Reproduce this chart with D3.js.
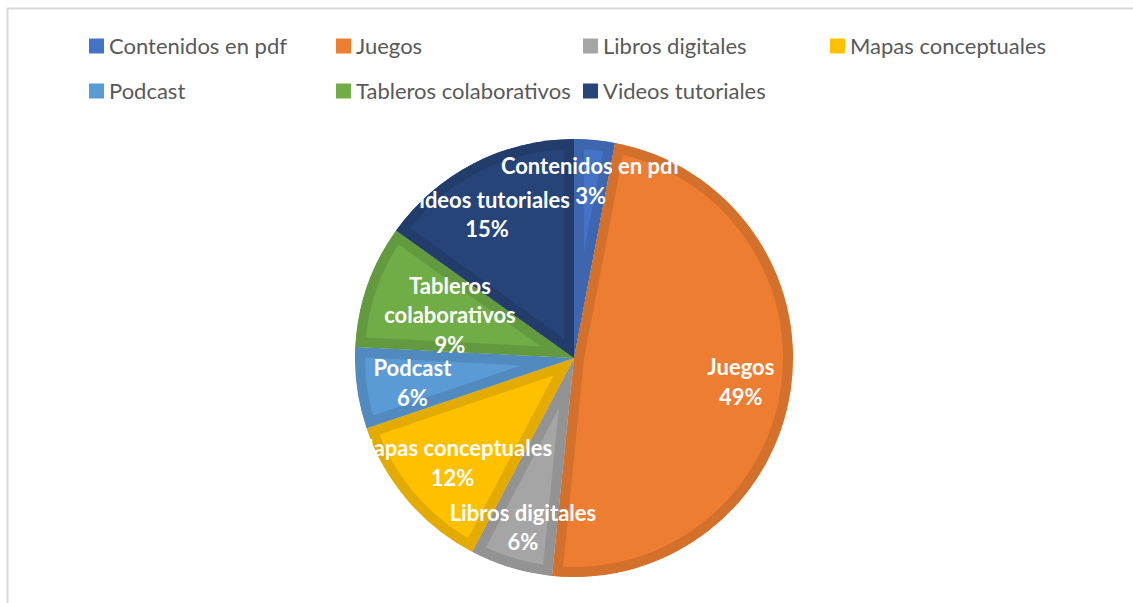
<!DOCTYPE html>
<html>
<head>
<meta charset="utf-8">
<script src="https://cdn.jsdelivr.net/npm/d3@7"></script>
<style>
html,body{margin:0;padding:0;background:#fff;}
svg{display:block;}
</style>
</head>
<body>
<svg id="chart" width="1133" height="603"></svg>
<script>
// ---- data ----
const categories = ["Contenidos en pdf","Juegos","Libros digitales","Mapas conceptuales","Podcast","Tableros colaborativos","Videos tutoriales"];
const shares = [3.0,48.6,6.1,12.1,6.0,9.1,15.1];
const colors = ["#4472C4","#ED7D31","#A5A5A5","#FFC000","#5B9BD5","#70AD47","#264478"];
const labelLines = [["Contenidos en pdf"],["Juegos"],["Libros digitales"],["Mapas conceptuales"],["Podcast"],["Tableros","colaborativos"],["Videos tutoriales"]];

// ---- layout ----
const cx = 574, cy = 358, R = 219;
const labelFont = "Lato, 'Open Sans', sans-serif";
const labelRadiusFactor = [0.81, 0.77, 0.81, 0.735, 0.745, 0.6, 0.76];
const labelNudge = [[0,0],[0,0],[0,0],[1,1],[0,3],[0,1],[-11,5]];

const svg = d3.select("#chart");

// chart frame
svg.append("rect").attr("x",7.5).attr("y",8.5).attr("width",1140).attr("height",620)
  .attr("fill","#fff").attr("stroke","#d9d9d9").attr("stroke-width",2);

// legend
const legendCols = [89,336,583,830];
const legendRows = [46,91];
const legend = svg.append("g");
categories.forEach((c,i)=>{
  const col = i % 4, row = Math.floor(i/4);
  const g = legend.append("g").attr("transform",`translate(${legendCols[col]},${legendRows[row]})`);
  g.append("rect").attr("x",0).attr("y",-7.5).attr("width",15).attr("height",15).attr("fill",colors[i]);
  g.append("text").attr("x",20).attr("y",0).attr("dy","0.35em")
    .attr("font-family",labelFont).attr("font-size",22).attr("fill","#595959").text(c);
});

// pie
const total = d3.sum(shares);
const pie = d3.pie().sort(null).value(d=>d)(shares);
const arc = d3.arc().innerRadius(0).outerRadius(R);
const defs = svg.append("defs");

pie.forEach((p,i)=>{
  defs.append("clipPath").attr("id","clip"+i).append("path").attr("d",arc(p))
    .attr("transform",`translate(${cx},${cy})`);
});

pie.forEach((p,i)=>{
  const base = d3.color(colors[i]);
  const g = svg.append("g").attr("clip-path",`url(#clip${i})`);
  g.append("path").attr("transform",`translate(${cx},${cy})`).attr("d",arc(p)).attr("fill",base.formatHex());
  g.append("path").attr("transform",`translate(${cx},${cy})`).attr("d",arc(p))
    .attr("fill","none").attr("stroke",base.darker(0.32).formatHex()).attr("stroke-width",20)
    .attr("stroke-linejoin","round");
});

// labels
const lg = svg.append("g").attr("transform",`translate(${cx},${cy})`);
pie.forEach((p,i)=>{
  const a = (p.startAngle+p.endAngle)/2;
  const r = R*labelRadiusFactor[i];
  const x = r*Math.sin(a)+labelNudge[i][0], y = -r*Math.cos(a)+labelNudge[i][1];
  const lines = labelLines[i].concat([Math.round(p.value/total*100)+"%"]);
  const lh = 29.5;
  const y0 = y - (lines.length-1)*lh/2;
  const t = lg.append("text").attr("text-anchor","middle").attr("font-family",labelFont)
    .attr("font-weight","bold").attr("font-size",22).attr("fill","#fff");
  lines.forEach((l,j)=>{
    t.append("tspan").attr("x",x).attr("y",y0+j*lh).attr("dy","0.35em").text(l);
  });
});
</script>
</body>
</html>
